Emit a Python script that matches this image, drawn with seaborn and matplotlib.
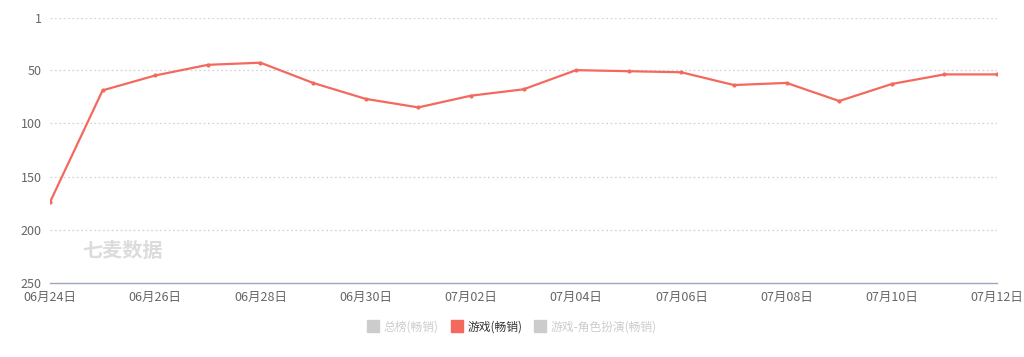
import numpy as np
import pandas as pd
import matplotlib
matplotlib.use("Agg")
import matplotlib.pyplot as plt
import seaborn as sns
from matplotlib.lines import Line2D

# data (rank, lower is better)
dates = ["06月24日", "06月25日", "06月26日", "06月27日", "06月28日", "06月29日",
         "06月30日", "07月01日", "07月02日", "07月03日", "07月04日", "07月05日",
         "07月06日", "07月07日", "07月08日", "07月09日", "07月10日", "07月11日",
         "07月12日"]
rank_game = [174, 69, 55, 45, 43, 62, 77, 85, 74, 68, 50, 51, 52, 64, 62, 79, 63, 54, 54]
legend_names = ["总榜(畅销)", "游戏(畅销)", "游戏-角色扮演(畅销)"]
yticks = [1, 50, 100, 150, 200, 250]

sns.set_style("white")
plt.rcParams['font.family'] = ['Noto Sans CJK SC', 'DejaVu Sans']

df = pd.DataFrame({"x": np.arange(len(dates)), "rank": rank_game})

fig = plt.figure(figsize=(10.24, 3.57), dpi=100)
ax = fig.add_axes([50/1024, 1 - 283/357, 947/1024, 265/357])

line_col = "#f4695e"
sns.lineplot(data=df, x="x", y="rank", ax=ax, color=line_col, linewidth=1.6,
             marker="o", markersize=3, markeredgewidth=0)

ax.set_ylim(250, 1)
ax.set_xlim(0, len(dates) - 1)
ax.set_yticks(yticks)
ax.set_yticklabels([str(t) for t in yticks])
ax.set_xticks(df["x"][::2])
ax.set_xticklabels(dates[::2])
ax.set_xlabel("")
ax.set_ylabel("")

for t in yticks[:-1]:
    ax.axhline(t, color="#d5d5d5", linestyle=(0, (1.5, 2)), linewidth=0.9, zorder=0)

for s in ["top", "right", "left"]:
    ax.spines[s].set_visible(False)
ax.spines["bottom"].set_color("#9ea6be")
ax.spines["bottom"].set_linewidth(1)

ax.tick_params(axis="y", length=0, pad=6, labelsize=9, labelcolor="#666666")
ax.tick_params(axis="x", length=0, pad=6, labelsize=9, labelcolor="#666666")

# watermark
ax.text(0.62, 219, "七麦数据", fontsize=14.5, color="#dcdcdc", fontweight="bold",
        style="italic", va="center", ha="left", zorder=0)

# legend
handles = [
    Line2D([0], [0], marker="s", color="none", markerfacecolor="#cccccc",
           markeredgecolor="#cccccc", markersize=9),
    Line2D([0], [0], marker="s", color="none", markerfacecolor=line_col,
           markeredgecolor=line_col, markersize=9),
    Line2D([0], [0], marker="s", color="none", markerfacecolor="#cccccc",
           markeredgecolor="#cccccc", markersize=9),
]
leg = fig.legend(handles, legend_names, loc="center", bbox_to_anchor=(0.5, 1 - 327/357),
                 ncol=3, frameon=False, fontsize=8.5, handlelength=1.0,
                 handletextpad=0.4, columnspacing=1.0)
for txt, c in zip(leg.get_texts(), ["#cccccc", "#333333", "#cccccc"]):
    txt.set_color(c)

fig.savefig("out.png", dpi=100)
